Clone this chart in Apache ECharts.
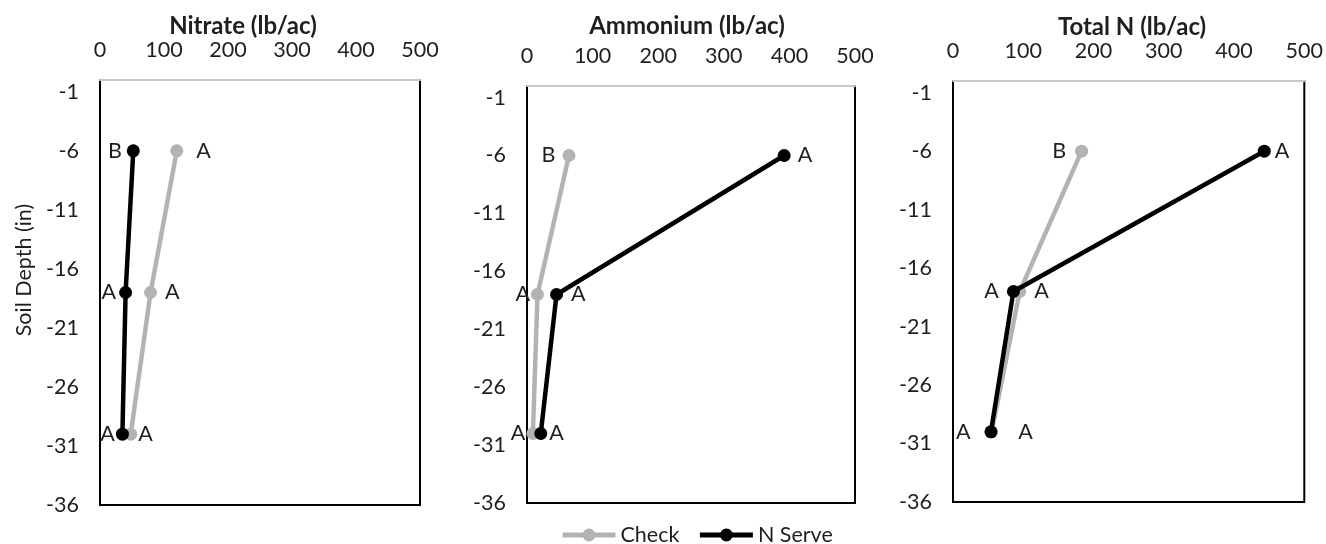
<!DOCTYPE html>
<html>
<head>
<meta charset="utf-8">
<script src="https://cdn.jsdelivr.net/npm/echarts@6/dist/echarts.min.js"></script>
<style>
html,body{margin:0;padding:0;background:#fff;}
#chart{width:1326px;height:544px;}
</style>
</head>
<body>
<div id="chart"></div>
<script>
// ---- Data ----
const depths = [-6, -18, -30];
const xTicks = [0, 100, 200, 300, 400, 500];
const yTicks = [-1, -6, -11, -16, -21, -26, -31, -36];
const panelTitles = ['Nitrate (lb/ac)', 'Ammonium (lb/ac)', 'Total N (lb/ac)'];
const seriesNames = ['Check', 'N Serve'];

const nitrateCheck = [120, 79, 48];
const nitrateNServe = [52, 40, 35];
const ammoniumCheck = [64, 16, 9];
const ammoniumNServe = [392, 45, 21];
const totalCheck = [183, 95, 55];
const totalNServe = [443, 86, 54];

const nitrateCheckLetters = ['A', 'A', 'A'];
const nitrateNServeLetters = ['B', 'A', 'A'];
const ammoniumCheckLetters = ['B', 'A', 'A'];
const ammoniumNServeLetters = ['A', 'A', 'A'];
const totalCheckLetters = ['B', 'A', 'A'];
const totalNServeLetters = ['A', 'A', 'A'];

// ---- Layout / style ----
const FONT = 'Lato';
const GRAY = '#b3b3b3';
const TXT = '#1f1f1f';
const FS = 21.5;
const grids = [
  {left: 100, top: 80, width: 320, height: 425},
  {left: 527, top: 86, width: 328, height: 417},
  {left: 953, top: 81, width: 353, height: 421}
];
const titleCenters = [[243, 14], [687, 14], [1132, 15]];
const labelLayout = [
  {c: ['right','right','right'], cd: [13, 8, 1], n: ['left','left','left'], nd: [5, 3, 1]},
  {c: ['left','left','left'], cd: [7, 1, 1], n: ['right','right','right'], nd: [7, 8, 2]},
  {c: ['left','right','right'], cd: [9, 8, 20], n: ['right','left','left'], nd: [4, 8, 14]}
];

const panels = [
  [nitrateCheck, nitrateNServe, nitrateCheckLetters, nitrateNServeLetters],
  [ammoniumCheck, ammoniumNServe, ammoniumCheckLetters, ammoniumNServeLetters],
  [totalCheck, totalNServe, totalCheckLetters, totalNServeLetters]
];

const option = {
  animation: false,
  textStyle: {fontFamily: FONT},
  title: panelTitles.map((t, i) => ({
    text: t, left: titleCenters[i][0], top: titleCenters[i][1], textAlign: 'center', padding: 0,
    textStyle: {fontFamily: FONT, fontWeight: 'bold', fontSize: 24, color: TXT}
  })),
  legend: {
    data: seriesNames.map(n => ({name: n})), left: 560, top: 524, padding: 0,
    itemWidth: 53, itemHeight: 16, itemGap: 18,
    lineStyle: {width: 5},
    textStyle: {fontFamily: FONT, fontSize: FS, color: TXT}
  },
  grid: grids.map(g => Object.assign({show: true, borderColor: '#000', borderWidth: 2, backgroundColor: '#fff'}, g)),
  xAxis: grids.map((g, i) => ({
    gridIndex: i, type: 'value', position: 'top', min: xTicks[0], max: xTicks[xTicks.length - 1],
    interval: xTicks[1] - xTicks[0],
    axisLine: {show: true, lineStyle: {color: '#c8c8c8', width: 2}},
    axisTick: {show: false}, splitLine: {show: false},
    axisLabel: {fontFamily: FONT, fontSize: FS, color: TXT, margin: 19}
  })),
  yAxis: grids.map((g, i) => ({
    gridIndex: i, type: 'value', min: yTicks[yTicks.length - 1], max: 0, interval: 5,
    axisLine: {show: false}, axisTick: {show: false}, splitLine: {show: false},
    axisLabel: {fontFamily: FONT, fontSize: FS, color: TXT, margin: 21, showMaxLabel: false,
      formatter: v => (yTicks.indexOf(v) >= 0 ? String(v) : '')}
  })),
  graphic: [{
    type: 'text', x: 24, y: 270, rotation: Math.PI / 2,
    style: {text: 'Soil Depth (in)', font: FS + 'px ' + FONT, fill: TXT, align: 'center', verticalAlign: 'middle'}
  }],
  series: []
};

panels.forEach((p, i) => {
  const lay = labelLayout[i];
  [0, 1].forEach(k => {
    const vals = p[k], letters = p[k + 2];
    const sides = k === 0 ? lay.c : lay.n;
    const dists = k === 0 ? lay.cd : lay.nd;
    const color = k === 0 ? GRAY : '#000';
    option.series.push({
      name: seriesNames[k], type: 'line', xAxisIndex: i, yAxisIndex: i,
      symbol: 'circle', symbolSize: 13, z: 2 + k,
      lineStyle: {color: color, width: 4.5}, itemStyle: {color: color},
      data: vals.map((v, j) => ({
        value: [v, depths[j]],
        label: {show: true, formatter: letters[j], position: sides[j], distance: dists[j],
          fontFamily: FONT, fontSize: FS, color: TXT}
      }))
    });
  });
});

const chart = echarts.init(document.getElementById('chart'), null, {renderer: 'canvas'});
chart.setOption(option);
</script>
</body>
</html>
